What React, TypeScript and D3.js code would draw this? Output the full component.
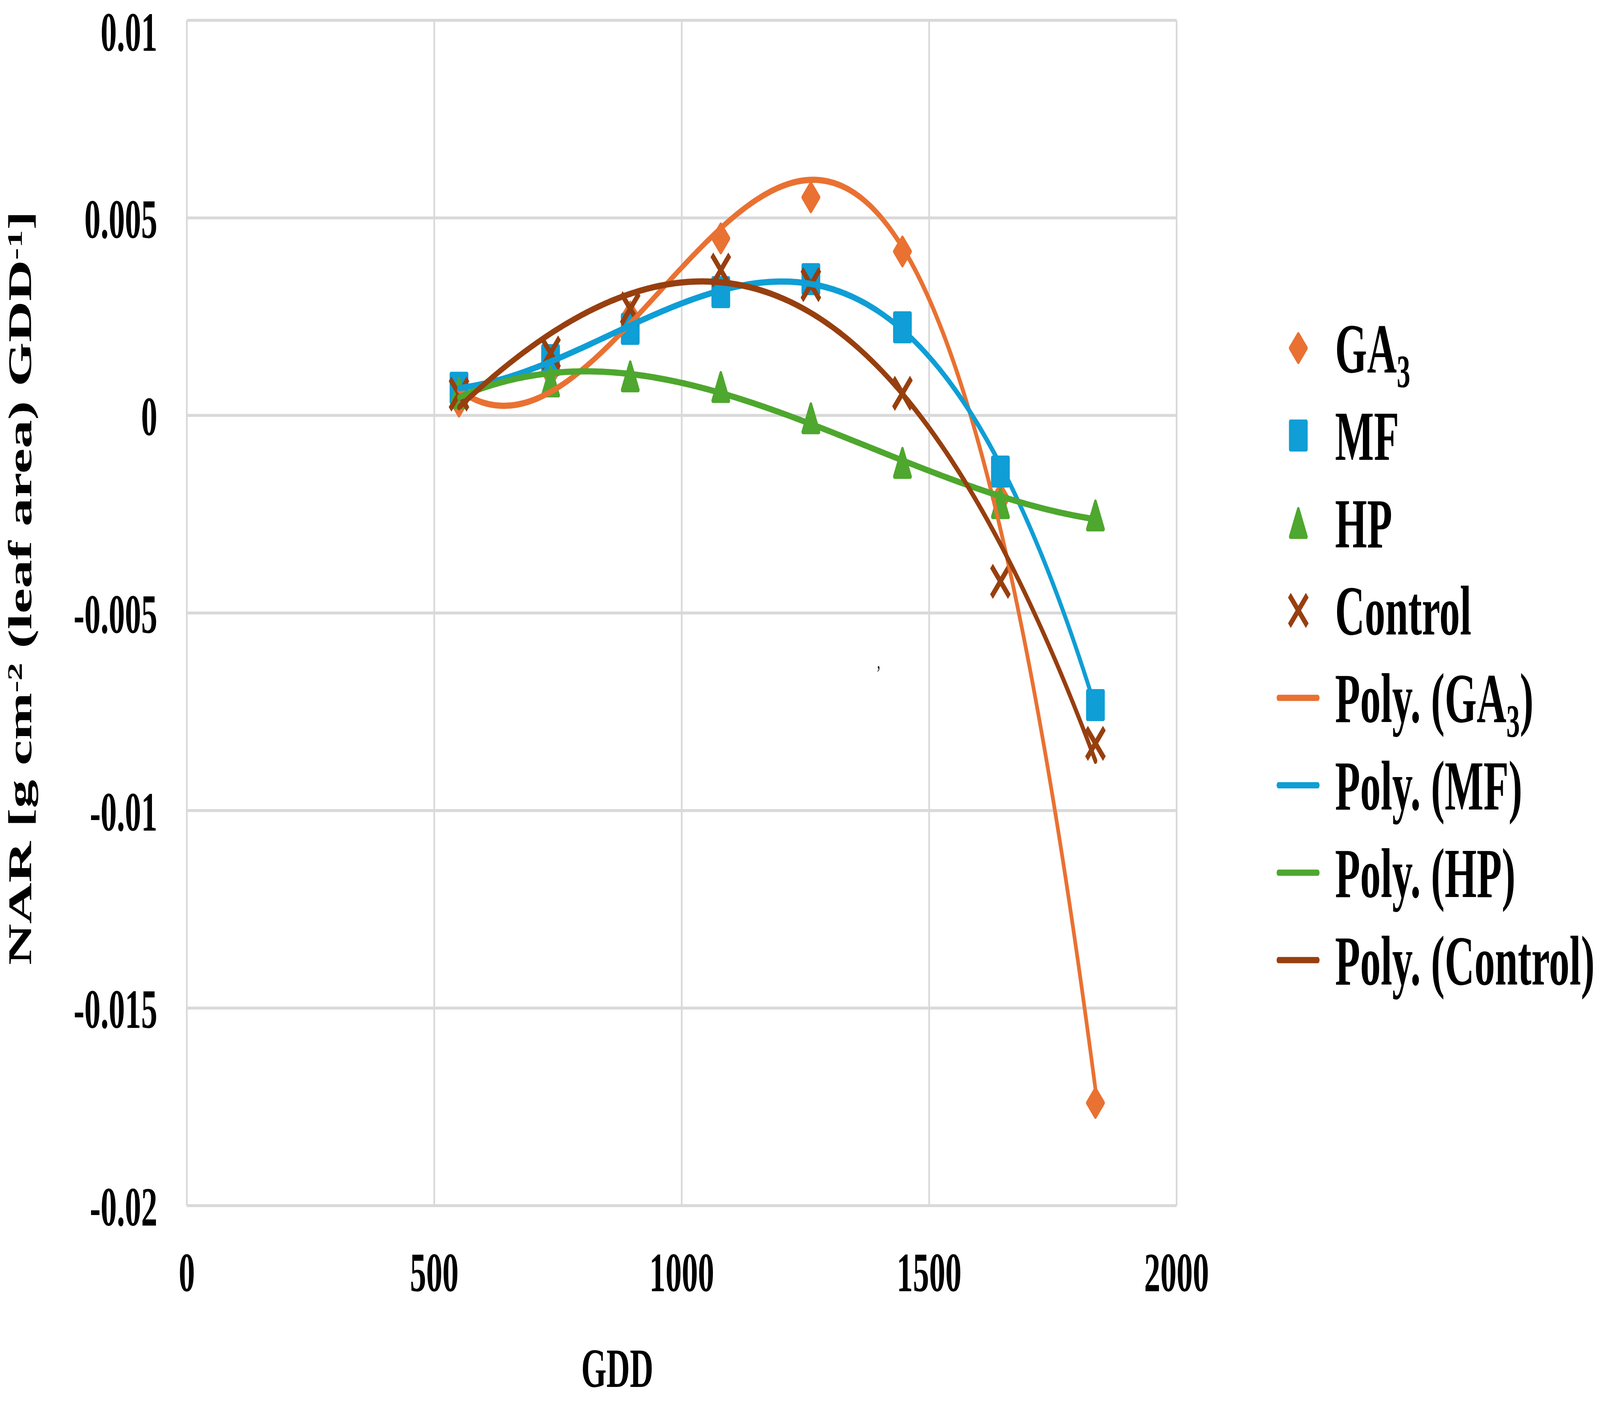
import { useEffect, useRef } from 'react'
import * as d3 from 'd3'

// GDD sampling points (same for every treatment)
const gdd = [550, 735, 896, 1079, 1261, 1446, 1644, 1836]

// NAR values
const ga3 = [0.00035, 0.0011, 0.0025, 0.00448, 0.00552, 0.00415, -0.0021, -0.0174]
const mf = [0.0007, 0.0014, 0.00219, 0.00312, 0.00345, 0.00223, -0.00142, -0.00733]
const hp = [0.00057, 0.00086, 0.00099, 0.00072, -0.00007, -0.0012, -0.00222, -0.00253]
const control = [0.00054, 0.00158, 0.0027, 0.00368, 0.00331, 0.00056, -0.0042, -0.0083]

const xTicks = [0, 500, 1000, 1500, 2000]
const yTicks = [0.01, 0.005, 0, -0.005, -0.01, -0.015, -0.02]
const yTickLabels = ['0.01', '0.005', '0', '-0.005', '-0.01', '-0.015', '-0.02']

const seriesNames = ['GA3', 'MF', 'HP', 'Control']
const seriesColors = ['#E97132', '#0F9ED5', '#4EA72E', '#973F0F']
const seriesShapes = ['diamond', 'square', 'triangle', 'x']

const W = 7006
const H = 3586
const FONT = '"Liberation Serif", "Times New Roman", "DejaVu Serif", serif'

// least squares polynomial (like Excel's Poly. trendline), x scaled by 1/1000
function polyFit(xs: number[], ys: number[], order: number) {
  const n = order + 1
  const A: number[][] = Array.from({ length: n }, () => new Array(n + 1).fill(0))
  xs.forEach((xv, k) => {
    const t = xv / 1000
    for (let i = 0; i < n; i++) {
      for (let j = 0; j < n; j++) A[i][j] += Math.pow(t, i + j)
      A[i][n] += Math.pow(t, i) * ys[k]
    }
  })
  for (let c = 0; c < n; c++) {
    let p = c
    for (let r = c + 1; r < n; r++) if (Math.abs(A[r][c]) > Math.abs(A[p][c])) p = r
    ;[A[c], A[p]] = [A[p], A[c]]
    for (let r = 0; r < n; r++) {
      if (r === c) continue
      const f = A[r][c] / A[c][c]
      for (let k = c; k <= n; k++) A[r][k] -= f * A[c][k]
    }
  }
  const coef = A.map((row, i) => row[n] / row[i])
  return (xv: number) => coef.reduce((s, cf, i) => s + cf * Math.pow(xv / 1000, i), 0)
}

function markerPath(shape: string, s: number) {
  const h = s / 2
  if (shape === 'diamond') return `M0,${-h}L${h},0L0,${h}L${-h},0Z`
  if (shape === 'square') return `M${-h},${-h}H${h}V${h}H${-h}Z`
  if (shape === 'triangle') return `M0,${-h}L${h},${h}L${-h},${h}Z`
  return `M${-h},${-h}L${h},${h}M${h},${-h}L${-h},${h}`
}

export default function App() {
  const ref = useRef<SVGSVGElement | null>(null)

  useEffect(() => {
    document.body.style.margin = '0'
    document.body.style.overflow = 'hidden'
    if (!ref.current) return
    const svg = d3.select(ref.current)
    svg.selectAll('*').remove()

    const x = d3.scaleLinear().domain([0, 2000]).range([818, 5152])
    const y = d3.scaleLinear().domain([-0.02, 0.01]).range([3086, 52])

    svg.append('rect').attr('width', W).attr('height', H).attr('fill', '#fff')

    // gridlines
    const grid = svg.append('g').attr('stroke', '#d9d9d9').attr('stroke-width', 7.5)
    yTicks.forEach(t => {
      grid.append('line').attr('x1', x(0)).attr('x2', x(2000)).attr('y1', y(t)).attr('y2', y(t))
    })
    xTicks.forEach(t => {
      grid.append('line').attr('x1', x(t)).attr('x2', x(t)).attr('y1', y(0.01)).attr('y2', y(-0.02))
    })

    // tick labels
    const tl = svg.append('g').attr('font-family', FONT).attr('font-weight', 'bold').attr('font-size', 142).attr('fill', '#000')
    yTicks.forEach((t, i) => {
      tl.append('text').attr('x', 689).attr('y', Math.max(y(t) + 51, 130)).attr('text-anchor', 'end').text(yTickLabels[i])
    })
    xTicks.forEach(t => {
      tl.append('text').attr('x', x(t)).attr('y', 3305).attr('text-anchor', 'middle').text(String(t))
    })

    // axis titles
    tl.append('text').attr('x', 2703).attr('y', 3550).attr('text-anchor', 'middle').text('GDD')
    const yt = tl.append('text').attr('transform', 'translate(137,1505) rotate(-90)')
      .attr('text-anchor', 'middle').attr('font-size', 146)
    yt.append('tspan').text('NAR [g cm')
    yt.append('tspan').attr('font-size', 92).attr('dy', -42).text('-2')
    yt.append('tspan').attr('dy', 42).text(' (leaf area) GDD')
    yt.append('tspan').attr('font-size', 92).attr('dy', -42).text('-1')
    yt.append('tspan').attr('dy', 42).text(']')

    // stray comma in the source image
    svg.append('text').attr('x', x(1398)).attr('y', y(-0.0064)).attr('font-family', FONT)
      .attr('font-size', 55).attr('text-anchor', 'middle').text(',')

    const allSeries = [ga3, mf, hp, control]

    const drawMarker = (g: d3.Selection<SVGGElement, unknown, null, undefined>, shape: string, color: string, cx: number, cy: number) => {
      const p = g.append('path').attr('transform', `translate(${cx},${cy})`)
      if (shape === 'x') {
        p.attr('d', markerPath(shape, 78)).attr('fill', 'none').attr('stroke', color).attr('stroke-width', 17)
      } else {
        p.attr('d', markerPath(shape, 70)).attr('fill', color)
          .attr('stroke', color).attr('stroke-width', 12).attr('stroke-linejoin', 'round')
      }
    }

    // markers
    const mk = svg.append('g')
    allSeries.forEach((vals, si) => {
      vals.forEach((v, i) => drawMarker(mk, seriesShapes[si], seriesColors[si], x(gdd[i]), y(v)))
    })

    // polynomial trendlines
    const lo = d3.min(gdd)!
    const hi = d3.max(gdd)!
    const samples = d3.range(0, 301).map(i => lo + (hi - lo) * i / 300)
    const line = d3.line<number>().curve(d3.curveLinear)
    allSeries.forEach((vals, si) => {
      const f = polyFit(gdd, vals, 3)
      svg.append('path')
        .attr('d', line.x(d => x(d)).y(d => y(f(d)))(samples))
        .attr('fill', 'none').attr('stroke', seriesColors[si]).attr('stroke-width', 16)
        .attr('stroke-linecap', 'round').attr('stroke-linejoin', 'round')
    })

    // legend
    const lg = svg.append('g').attr('font-family', FONT).attr('font-weight', 'bold').attr('font-size', 180)
    const rowY = (i: number) => 891 + i * 223.8
    const addLabel = (i: number, prefix: string, name: string, suffix: string) => {
      const t = lg.append('text').attr('x', 5846).attr('y', rowY(i) + 62)
      if (name === 'GA3') {
        t.append('tspan').text(prefix + 'GA')
        t.append('tspan').attr('font-size', 118).attr('dy', 38).text('3')
        if (suffix) t.append('tspan').attr('dy', -38).text(suffix)
      } else {
        t.text(prefix + name + suffix)
      }
    }
    seriesNames.forEach((name, si) => {
      drawMarker(lg, seriesShapes[si], seriesColors[si], 5685, rowY(si))
      addLabel(si, '', name, '')
    })
    seriesNames.forEach((name, si) => {
      const i = si + 4
      lg.append('line').attr('x1', 5598).attr('x2', 5770).attr('y1', rowY(i)).attr('y2', rowY(i))
        .attr('stroke', seriesColors[si]).attr('stroke-width', 16).attr('stroke-linecap', 'round')
      addLabel(i, 'Poly. (', name, ')')
    })
  }, [])

  // the window may be narrower than 7006px, so stretch the drawing over the whole viewport
  return (
    <svg ref={ref} viewBox={`0 0 ${W} ${H}`} preserveAspectRatio="none"
      style={{ display: 'block', width: '100vw', height: '100vh' }} />
  )
}
